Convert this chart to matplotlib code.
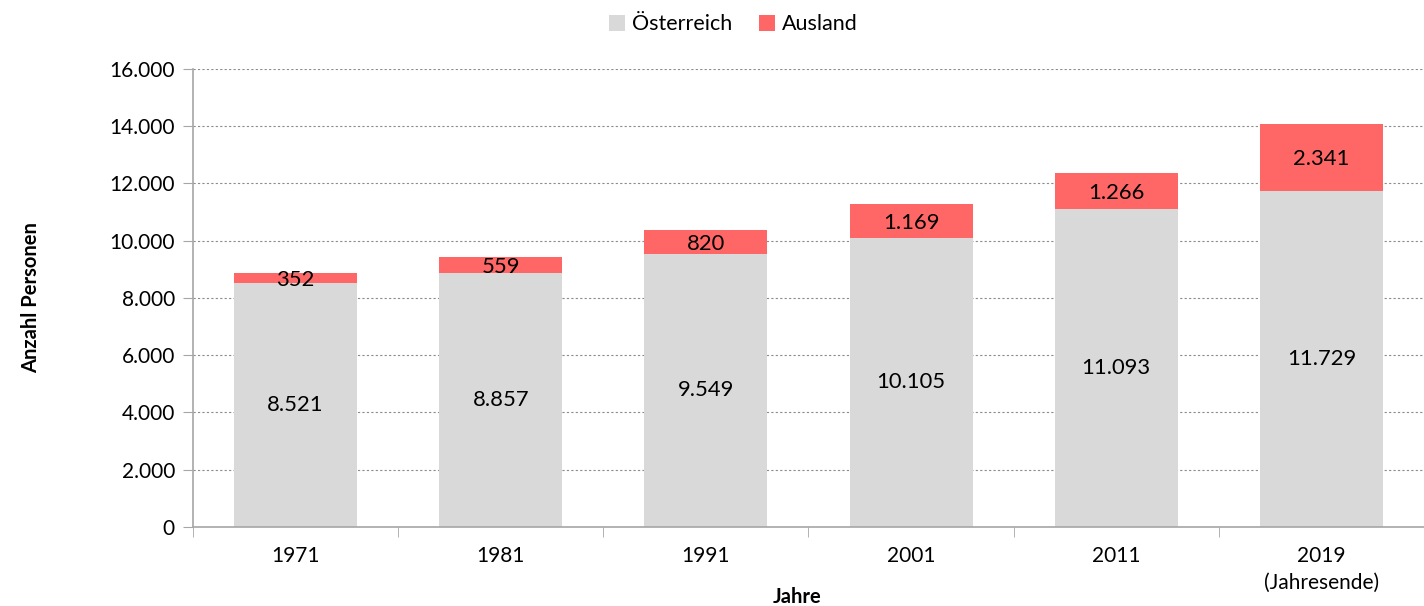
import matplotlib.pyplot as plt
import numpy as np
from matplotlib.ticker import FuncFormatter, FixedLocator

plt.rcParams['font.family'] = ['Lato', 'DejaVu Sans']

jahre = ["1971", "1981", "1991", "2001", "2011", "2019\n(Jahresende)"]
oesterreich = [8521, 8857, 9549, 10105, 11093, 11729]
ausland = [352, 559, 820, 1169, 1266, 2341]

GRAY = "#D9D9D9"
RED = "#FF6666"
AXIS = "#A6A6A6"


def de_fmt(v):
    return f"{int(round(v)):,}".replace(",", ".")


fig = plt.figure(figsize=(14.24, 6.06), dpi=100)
ax = fig.add_axes([0.1355, 0.1304, 0.8645, 0.7558])

x = np.arange(len(jahre))
b1 = ax.bar(x, oesterreich, width=0.6, color=GRAY, label="Österreich", zorder=2)
b2 = ax.bar(x, ausland, width=0.6, bottom=oesterreich, color=RED, label="Ausland", zorder=2)

for rect, v in zip(b1, oesterreich):
    ax.text(rect.get_x() + rect.get_width() / 2, v / 2, de_fmt(v),
            ha="center", va="center", fontsize=15.8, color="black", zorder=3)
for rect, base, v in zip(b2, oesterreich, ausland):
    ax.text(rect.get_x() + rect.get_width() / 2, base + v / 2 - 60, de_fmt(v),
            ha="center", va="center", fontsize=15.8, color="black", zorder=3)

ax.set_xlim(-0.5, len(jahre) - 0.5)
ax.set_ylim(0, 16000)
ax.set_yticks(np.arange(0, 16001, 2000))
ax.yaxis.set_major_formatter(FuncFormatter(lambda v, p: de_fmt(v)))
ax.grid(axis="y", color="#8C8C8C", linestyle=(0, (2, 2)), linewidth=0.8, zorder=1)

ax.set_xticks(x)
ax.set_xticklabels(jahre, linespacing=1.4)
ax.xaxis.set_minor_locator(FixedLocator(np.arange(-0.5, len(jahre), 1.0)))
ax.tick_params(axis="x", which="major", length=0, pad=14, labelsize=15)
ax.tick_params(axis="x", which="minor", length=7, color=AXIS, direction="out")
ax.tick_params(axis="y", length=7, color=AXIS, labelsize=15, pad=6)

for s in ["top", "right"]:
    ax.spines[s].set_visible(False)
for s in ["left", "bottom"]:
    ax.spines[s].set_color(AXIS)
    ax.spines[s].set_linewidth(1.2)

fig.text(0.5595, 1 - 597 / 606, "Jahre", ha="center", va="center",
         fontsize=14.5, fontweight="bold")
ax.set_ylabel("Anzahl Personen", fontsize=14.5, fontweight="bold")
ax.yaxis.set_label_coords(-0.123, 0.5)

fig.legend(handles=[b1, b2], labels=["Österreich", "Ausland"], loc="center",
           bbox_to_anchor=(0.515, 0.96), ncol=2, frameon=False, fontsize=15.5,
           handlelength=0.75, handleheight=0.75, handletextpad=0.35, columnspacing=1.2)

fig.savefig("out.png", dpi=100)
